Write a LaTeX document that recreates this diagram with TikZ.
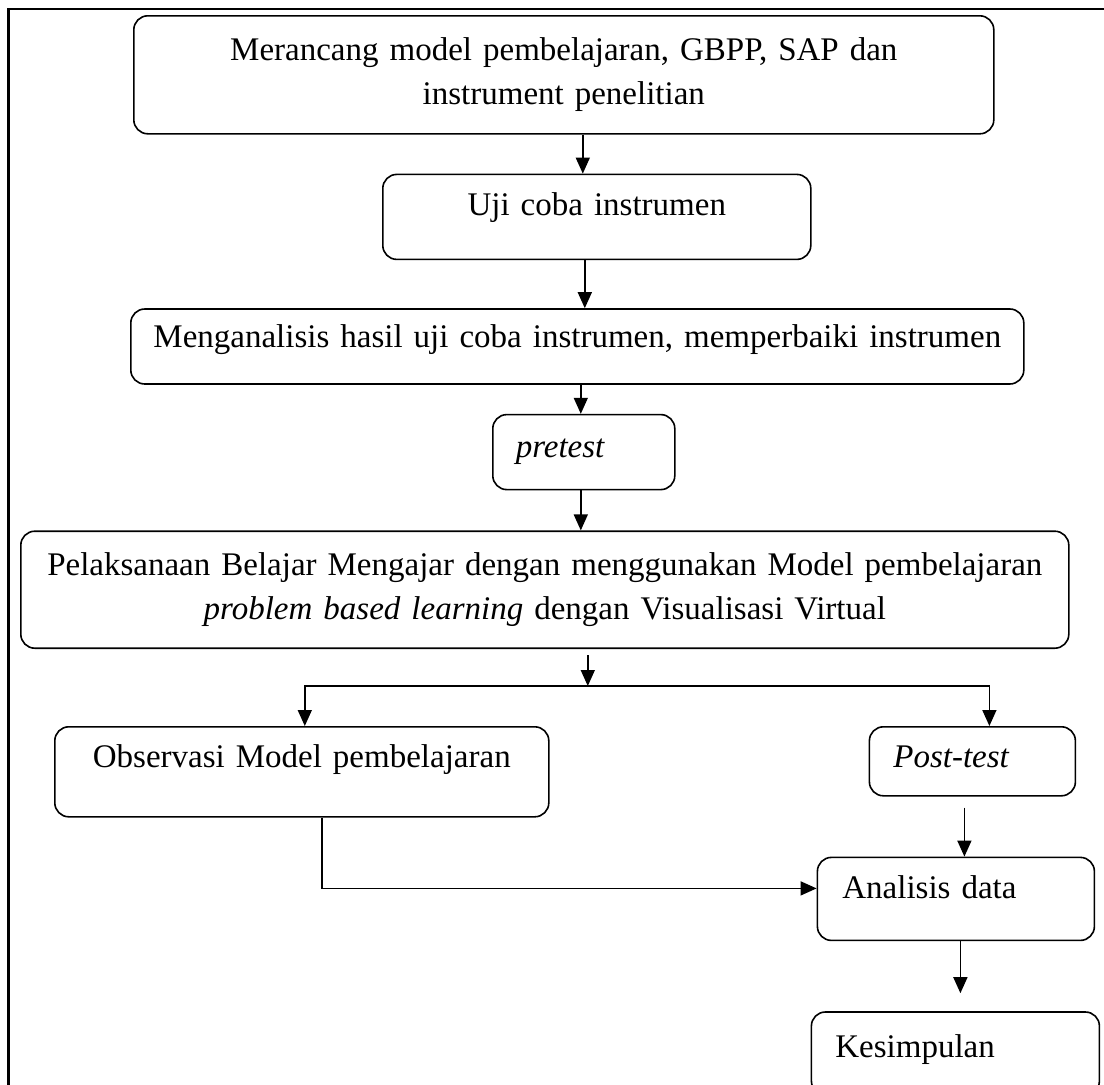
\documentclass[tikz,border=0pt]{standalone}
\usepackage{fontspec}
\setmainfont{Liberation Serif}
\usetikzlibrary{positioning,arrows.meta,calc}

\begin{document}
\begin{tikzpicture}[
  x=1pt, y=-1pt,
  every node/.style={font=\fontsize{33}{44}\selectfont},
  %% rounded step box, text hangs from its first baseline
  stage/.style={
    draw, line width=1.6pt, rounded corners=14pt,
    inner sep=0pt, align=center
  },
  %% same box, text set from the left edge
  stagel/.style={stage, align=left},
  %% forward arrows
  arr/.style={-{Triangle[length=16pt,width=14pt]}, line width=1.5pt},
]

\useasboundingbox (0,0) rectangle (1104,1085);
\clip (0,0) rectangle (1104,1085);

%%── Outer frame (runs past the right and bottom edge) ───────────────────────
\draw[line width=2.6pt] (8.5,9) rectangle (1140,1120);

%%── Preparation ─────────────────────────────────────────────────────────────
\node[stage, anchor=north west,
      text width=860pt, text height=45pt, text depth=73pt] (design)
  at (133,15)
  {Merancang model pembelajaran, GBPP, SAP dan\\instrument penelitian};

\node[stage, below=39pt of design.south west, anchor=north west,
      xshift=249pt,
      text width=428pt, text height=41pt, text depth=44pt] (trial)
  {Uji coba instrumen};

\node[stage, below=48pt of trial.south west, anchor=north west,
      xshift=-252pt,
      text width=893pt, text height=38pt, text depth=37pt] (revise)
  {Menganalisis hasil uji coba instrumen, memperbaiki instrumen};

\node[stagel, below=29pt of revise.south west, anchor=north west,
      xshift=362pt, inner xsep=23pt,
      text width=136pt, text height=43pt, text depth=32pt] (pretest)
  {\textit{pretest}};

%%── Teaching ────────────────────────────────────────────────────────────────
\node[stage, below=40pt of pretest.south west, anchor=north west,
      xshift=-472pt,
      text width=1048pt, text height=44pt, text depth=73pt] (impl)
  {Pelaksanaan Belajar Mengajar dengan menggunakan Model pembelajaran\\
   \textit{problem based learning} dengan Visualisasi Virtual};

%%── Observation and post-test ───────────────────────────────────────────────
\node[stage, below=77pt of impl.south west, anchor=north west,
      xshift=34pt,
      text width=494pt, text height=41pt, text depth=49pt] (observe)
  {Observasi Model pembelajaran};

\node[stagel, right=319pt of observe.north east, anchor=north west,
      inner xsep=24pt,
      text width=158pt, text height=41pt, text depth=28pt] (post)
  {\textit{Post-test}};

%%── Analysis and conclusion ─────────────────────────────────────────────────
\node[stagel, below=60pt of post.south west, anchor=north west,
      xshift=-52pt, inner xsep=25pt,
      text width=227pt, text height=41pt, text depth=42pt] (ana)
  {Analisis data};

\node[stagel, below=70pt of ana.south west, anchor=north west,
      xshift=-6pt, inner xsep=24pt,
      text width=240pt, text height=45pt, text depth=38pt] (conclude)
  {Kesimpulan};

%%── Arrows ──────────────────────────────────────────────────────────────────
\foreach \s/\t/\dx in
  {design/trial/19, trial/revise/-12, revise/pretest/3.5, pretest/impl/-3}
  \draw[arr] ([xshift=\dx pt]\s.south) -- ([xshift=\dx pt]\s.south |- \t.north);

%% split under the teaching box
\coordinate (split) at ([xshift=43pt,yshift=-37pt]impl.south);
\draw[arr, shorten <=6pt] ([xshift=43pt]impl.south) -- (split);
\draw[arr] (split) -| ([xshift=3pt]observe.north);
\draw[arr] (split) -| ([xshift=17pt]post.north);

\draw[arr, shorten <=11pt] ([xshift=-8pt]post.south)
  -- ([xshift=-8pt]post.south |- ana.north);
\draw[arr] ([xshift=20pt]observe.south) |- ([yshift=10.5pt]ana.west);
\draw[arr, shorten >=18pt] ([xshift=4.5pt]ana.south)
  -- ([xshift=4.5pt]ana.south |- conclude.north);

\end{tikzpicture}
\end{document}
